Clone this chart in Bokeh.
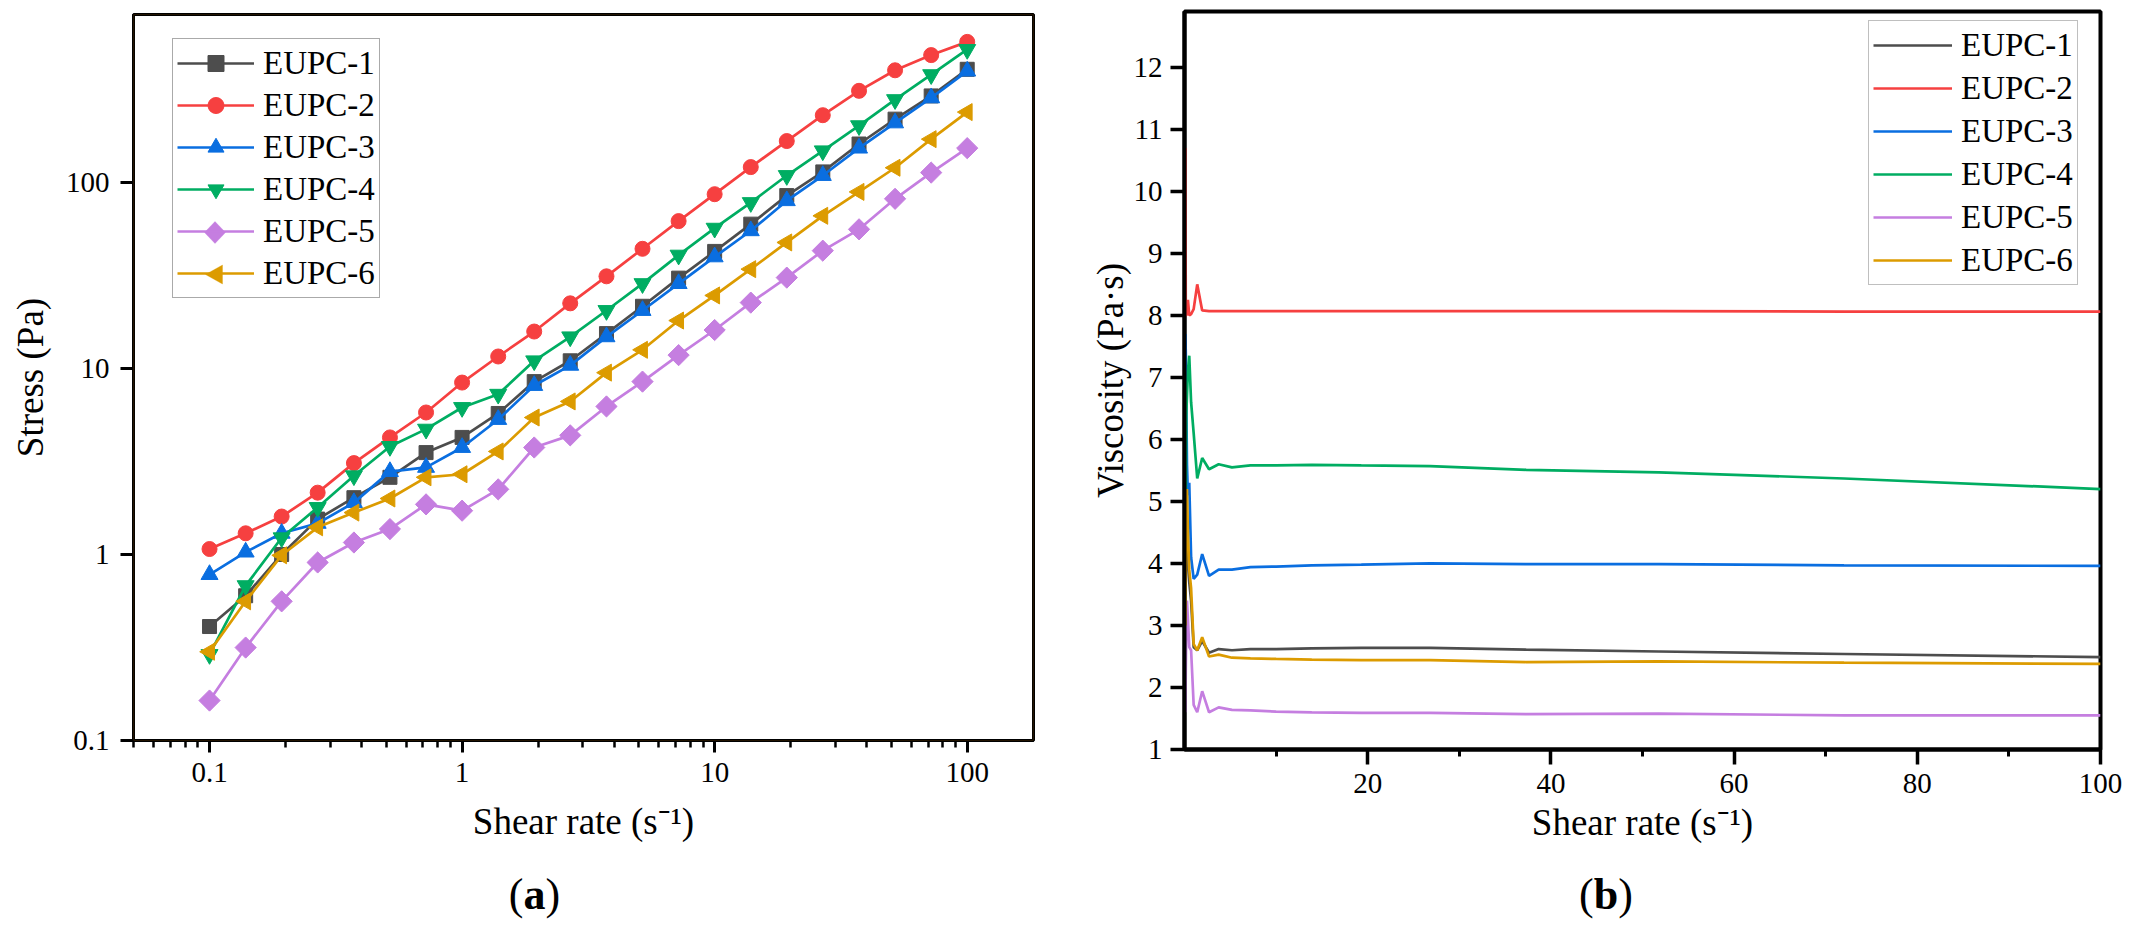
import numpy as np
from bokeh.plotting import figure
from bokeh.models import (Range1d, FixedTicker, Legend, LegendItem, BoxAnnotation, Div,
                          PolyAnnotation)
from bokeh.layouts import row, column
from bokeh.embed import file_html
from bokeh.resources import INLINE

FONT = "Liberation Serif"

# ---------------- data ----------------
shear_rate = [0.1, 0.139, 0.193, 0.268, 0.373, 0.518, 0.72, 1.0, 1.39, 1.93, 2.68,
              3.73, 5.18, 7.2, 10.0, 13.9, 19.3, 26.8, 37.3, 51.8, 72.0, 100.0]
series_names = ["EUPC-1", "EUPC-2", "EUPC-3", "EUPC-4", "EUPC-5", "EUPC-6"]
series_colors = ["#4d4d4d", "#f64040", "#0a6ee0", "#00ad62", "#c57ee0", "#dc9b00"]

# (a) stress vs shear rate
stress_eupc1 = [0.41, 0.60, 1.00, 1.55, 2.02, 2.60, 3.53, 4.26, 5.73, 8.5, 11.0,
                15.4, 21.6, 30.6, 42.6, 59.7, 85.0, 114.0, 161.0, 219.0, 292.0, 406.0]
stress_eupc2 = [1.07, 1.30, 1.60, 2.15, 3.10, 4.26, 5.80, 8.4, 11.6, 15.8, 22.4,
                31.3, 44.0, 62.0, 86.5, 121.0, 167.0, 230.0, 311.0, 401.0, 484.0, 570.0]
stress_eupc3 = [0.78, 1.03, 1.30, 1.47, 1.90, 2.79, 2.94, 3.76, 5.32, 8.1, 10.4,
                14.8, 20.5, 28.6, 39.8, 55.0, 79.8, 109.0, 153.0, 209.0, 285.0, 397.0]
stress_eupc4 = [0.29, 0.68, 1.23, 1.79, 2.65, 3.81, 4.72, 6.17, 7.27, 11.0, 14.8,
                20.5, 28.6, 40.7, 56.8, 78.0, 109.0, 148.0, 202.0, 279.0, 380.0, 519.0]
stress_eupc5 = [0.164, 0.316, 0.56, 0.906, 1.16, 1.37, 1.86, 1.72, 2.24, 3.76, 4.37,
                6.25, 8.5, 11.8, 16.1, 22.6, 30.8, 43.0, 56.0, 81.7, 113.0, 153.0]
stress_eupc6 = [0.30, 0.56, 0.99, 1.40, 1.68, 2.0, 2.6, 2.7, 3.58, 5.45, 6.65,
                9.5, 12.6, 18.1, 24.7, 34.2, 47.6, 66.2, 89.0, 120.0, 171.0, 239.0]

# (b) viscosity vs shear rate
visc_eupc1 = [4.0, 4.2, 4.4, 4.3, 4.0, 3.7, 3.4, 2.65, 2.6, 2.75, 2.56,
              2.62, 2.6, 2.62, 2.62, 2.63, 2.64, 2.64, 2.61, 2.58, 2.54, 2.49]
visc_eupc2 = [10.7, 8.0, 8.0, 8.05, 8.25, 8.0, 8.02, 8.1, 8.5, 8.08, 8.07,
              8.07, 8.07, 8.07, 8.07, 8.07, 8.07, 8.07, 8.07, 8.07, 8.06, 8.06]
visc_eupc3 = [7.7, 7.4, 6.7, 5.6, 5.1, 5.3, 4.1, 3.75, 3.82, 4.15, 3.8,
              3.9, 3.9, 3.94, 3.95, 3.97, 3.98, 4.0, 3.99, 3.99, 3.97, 3.96]
visc_eupc4 = [2.9, 4.9, 6.4, 6.7, 7.1, 7.35, 6.6, 6.1, 5.37, 5.7, 5.52,
              5.6, 5.55, 5.58, 5.58, 5.59, 5.58, 5.57, 5.51, 5.47, 5.37, 5.2]
visc_eupc5 = [1.6, 2.3, 2.9, 3.4, 3.1, 2.65, 2.6, 1.72, 1.6, 1.94, 1.6,
              1.68, 1.64, 1.63, 1.61, 1.6, 1.59, 1.59, 1.57, 1.58, 1.55, 1.55]
visc_eupc6 = [3.0, 4.0, 5.1, 5.2, 4.5, 3.9, 3.6, 2.7, 2.6, 2.81, 2.5,
              2.53, 2.48, 2.47, 2.46, 2.45, 2.44, 2.44, 2.41, 2.42, 2.40, 2.38]

stress_all = [stress_eupc1, stress_eupc2, stress_eupc3, stress_eupc4, stress_eupc5, stress_eupc6]
visc_all = [visc_eupc1, visc_eupc2, visc_eupc3, visc_eupc4, visc_eupc5, visc_eupc6]

stress_x_ticks = [0.1, 1, 10, 100]
stress_y_ticks = [0.1, 1, 10, 100]
visc_x_ticks = [20, 40, 60, 80, 100]
visc_x_minor = [10, 30, 50, 70, 90]
visc_y_ticks = list(range(1, 13))

# marker name, rotation, size, shape drawn by hand in the legend (rotated markers)
markers = [("square", 0.0, 14, None), ("circle", 0.0, 15, None), ("triangle", 0.0, 17, None),
           ("inverted_triangle", 0.0, 17, None), ("square", np.pi / 4, 15, "diamond"),
           ("triangle", np.pi / 2, 17, "left_triangle")]

# ---------------- layout constants ----------------
P1_W, P1_H = 1085, 866
P1_BL, P1_BR, P1_BT, P1_BB = 133, 52, 14, 126
FRAME1_W = P1_W - P1_BL - P1_BR
FRAME1_H = P1_H - P1_BT - P1_BB
X1_RANGE = (0.05, 183.0)
Y1_RANGE = (0.1, 800.0)


def style_axis(ax, tick_size="29px", label_size="37px"):
    ax.axis_label_text_font = FONT
    ax.axis_label_text_font_style = "normal"
    ax.axis_label_text_font_size = label_size
    ax.axis_label_text_color = "black"
    ax.major_label_text_font = FONT
    ax.major_label_text_font_size = tick_size
    ax.major_label_text_color = "black"
    ax.axis_line_color = "black"
    ax.major_tick_line_color = "black"
    ax.minor_tick_line_color = "black"
    ax.major_tick_in = 0
    ax.minor_tick_in = 0


def frame_px_to_data(px, py):
    """frame pixel offsets (from lower-left) -> log-log data coordinates of panel (a)"""
    lx0, lx1 = np.log10(X1_RANGE[0]), np.log10(X1_RANGE[1])
    ly0, ly1 = np.log10(Y1_RANGE[0]), np.log10(Y1_RANGE[1])
    return (10 ** (lx0 + np.asarray(px, dtype=float) / FRAME1_W * (lx1 - lx0)),
            10 ** (ly0 + np.asarray(py, dtype=float) / FRAME1_H * (ly1 - ly0)))


# ---------------- (a) ----------------
p1 = figure(width=P1_W, height=P1_H, x_axis_type="log", y_axis_type="log",
            x_range=Range1d(*X1_RANGE), y_range=Range1d(*Y1_RANGE),
            output_backend="svg", toolbar_location=None,
            min_border_left=P1_BL, min_border_right=P1_BR,
            min_border_top=P1_BT, min_border_bottom=P1_BB)
p1.grid.visible = False
p1.outline_line_color = "black"
p1.outline_line_width = 3
p1.background_fill_color = "white"
p1.border_fill_color = "white"

xa = p1.xaxis[0]
ya = p1.yaxis[0]
style_axis(xa)
style_axis(ya)
xa.axis_label = "Shear rate (s\u207b\u00b9)"
ya.axis_label = "Stress (Pa)"
xa.ticker = FixedTicker(ticks=stress_x_ticks,
                        minor_ticks=[m * 10.0 ** e for e in (-2, -1, 0, 1) for m in range(2, 10)])
ya.ticker = FixedTicker(ticks=stress_y_ticks, minor_ticks=[])
xa.major_label_overrides = {t: f"{t:g}" for t in stress_x_ticks}
ya.major_label_overrides = {t: f"{t:g}" for t in stress_y_ticks}
xa.axis_line_width = 3
ya.axis_line_width = 3
xa.major_tick_line_width = 3
ya.major_tick_line_width = 3
xa.minor_tick_line_width = 2.5
xa.major_tick_out = 12
xa.minor_tick_out = 7
ya.major_tick_out = 13
xa.major_label_standoff = 10
ya.major_label_standoff = 11
xa.axis_label_standoff = 16
ya.axis_label_standoff = 12

# legend geometry (screen px, relative to the frame's lower-left corner)
LEG1_X, LEG1_Y = 39, 442
LEG_PAD, LEG_GLYPH_W, LEG_ROW_H, LEG_SPACING = 4, 77, 40, 2
n_items = len(series_names)
leg1_top = LEG1_Y + 2 * LEG_PAD + n_items * LEG_ROW_H + (n_items - 1) * LEG_SPACING

# legend box drawn first (below), so hand-drawn legend symbols can sit on top of it
p1.add_layout(BoxAnnotation(left=frame_px_to_data(LEG1_X, 1)[0],
                            right=frame_px_to_data(LEG1_X + 209, 1)[0],
                            bottom=frame_px_to_data(1, LEG1_Y)[1],
                            top=frame_px_to_data(1, leg1_top)[1],
                            fill_color="white", fill_alpha=1.0, line_color=None,
                            level="underlay"))

items1 = []
for i, (name, col, ys, (mk, ang, sz, special)) in enumerate(
        zip(series_names, series_colors, stress_all, markers)):
    lr = p1.line(shear_rate, ys, line_color=col, line_width=2.7)
    sr = p1.scatter(shear_rate, ys, marker=mk, angle=ang, size=sz,
                    fill_color=col, line_color=col, line_width=1)
    if special is None:
        items1.append(LegendItem(label=name, renderers=[lr, sr]))
    else:
        items1.append(LegendItem(label=name, renderers=[lr]))
        cx = LEG1_X + LEG_PAD + LEG_GLYPH_W / 2
        cy = leg1_top - LEG_PAD - i * (LEG_ROW_H + LEG_SPACING) - LEG_ROW_H / 2
        if special == "diamond":
            dx, dy = 10.5, 11.0
            pxs = [cx - dx, cx, cx + dx, cx]
            pys = [cy, cy + dy, cy, cy - dy]
        else:
            pxs = [cx - 9.5, cx + 7.5, cx + 7.5]
            pys = [cy, cy + 9.5, cy - 9.5]
        dxs, dys = frame_px_to_data(pxs, pys)
        p1.add_layout(PolyAnnotation(xs=[float(v) for v in dxs], ys=[float(v) for v in dys],
                                     xs_units="data", ys_units="data",
                                     fill_color=col, fill_alpha=1.0, line_color=col,
                                     line_width=1, level="overlay", visible=True))

leg1 = Legend(items=items1, location=(LEG1_X, LEG1_Y), orientation="vertical",
              label_text_font=FONT, label_text_font_size="33px", label_text_color="black",
              glyph_width=LEG_GLYPH_W, glyph_height=LEG_ROW_H, label_height=LEG_ROW_H,
              spacing=LEG_SPACING, label_standoff=9, padding=LEG_PAD, margin=0,
              border_line_color="#555555", border_line_width=1.5,
              background_fill_color="white", background_fill_alpha=0.0)
p1.add_layout(leg1)
p1.add_layout(BoxAnnotation(fill_color=None, fill_alpha=0, line_color="#e8890a",
                            line_width=1.2, level="overlay"))

# ---------------- (b) ----------------
p2 = figure(width=1046, height=866,
            x_range=Range1d(0, 100), y_range=Range1d(1, 12.9),
            output_backend="svg", toolbar_location=None,
            min_border_left=99, min_border_right=31, min_border_top=11, min_border_bottom=117)
p2.grid.visible = False
p2.outline_line_color = "black"
p2.outline_line_width = 4
p2.background_fill_color = "white"
p2.border_fill_color = "white"

xb = p2.xaxis[0]
yb = p2.yaxis[0]
style_axis(xb)
style_axis(yb)
xb.axis_label = "Shear rate (s\u207b\u00b9)"
yb.axis_label = "Viscosity (Pa\u00b7s)"
xb.ticker = FixedTicker(ticks=visc_x_ticks, minor_ticks=visc_x_minor)
yb.ticker = FixedTicker(ticks=visc_y_ticks, minor_ticks=[])
xb.axis_line_width = 4
yb.axis_line_width = 4
xb.major_tick_line_width = 3.5
yb.major_tick_line_width = 3.5
xb.minor_tick_line_width = 3
xb.major_tick_out = 15
xb.minor_tick_out = 7
yb.major_tick_out = 14
xb.major_label_standoff = 9
yb.major_label_standoff = 8
xb.axis_label_standoff = 6
yb.axis_label_standoff = 0

items2 = []
for name, col, ys in zip(series_names, series_colors, visc_all):
    lr = p2.line(shear_rate, ys, line_color=col, line_width=2.7)
    items2.append(LegendItem(label=name, renderers=[lr]))

leg2 = Legend(items=items2, location=(684, 464), orientation="vertical",
              label_text_font=FONT, label_text_font_size="33px", label_text_color="black",
              glyph_width=79, glyph_height=40, label_height=40, spacing=3,
              label_standoff=9, padding=4, margin=0,
              border_line_color="#808080", border_line_width=1.5,
              background_fill_color="white", background_fill_alpha=1.0)
p2.add_layout(leg2)

# ---------------- panel captions ----------------
cap_style = {"text-align": "center", "font-family": FONT, "font-size": "44px",
             "line-height": "52px", "color": "black", "padding-top": "3px"}
d1 = Div(text='<span style="position:relative;left:-8px">(<b>a</b>)</span>',
         width=P1_W, height=62, styles=cap_style, margin=0)
d2 = Div(text='<span style="position:relative;left:-2px">(<b>b</b>)</span>',
         width=1046, height=62, styles=cap_style, margin=0)

layout = row(column(p1, d1, spacing=0), column(p2, d2, spacing=0), spacing=0)

open("out.html", "w").write(file_html(layout, INLINE))
